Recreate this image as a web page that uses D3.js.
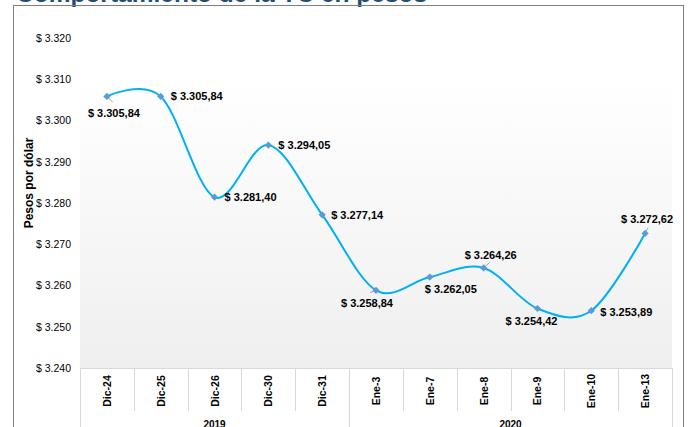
<!DOCTYPE html>
<html>
<head>
<meta charset="utf-8">
<script src="https://cdn.jsdelivr.net/npm/d3@7"></script>
<style>
  html, body { margin: 0; padding: 0; background: #ffffff; }
  svg { display: block; font-family: "Liberation Sans", Arial, sans-serif; }
</style>
</head>
<body>
<svg id="chart" width="690" height="427"></svg>
<script>
// ---- data ----
const categories = ["Dic-24", "Dic-25", "Dic-26", "Dic-30", "Dic-31", "Ene-3", "Ene-7", "Ene-8", "Ene-9", "Ene-10", "Ene-13"];
const years = ["2019", "2019", "2019", "2019", "2019", "2020", "2020", "2020", "2020", "2020", "2020"];
const values = [3305.84, 3305.84, 3281.40, 3294.05, 3277.14, 3258.84, 3262.05, 3264.26, 3254.42, 3253.89, 3272.62];
const yTicks = [3240, 3250, 3260, 3270, 3280, 3290, 3300, 3310, 3320];
const title = "Comportamiento de la TC en pesos";
const yTitle = "Pesos por dólar";

// label placement (offsets from point, style only)
const labelPos = [
  {dx: 7, dy: 17, a: "middle", lead: [1, 1]},
  {dx: 10, dy: 0, a: "start"},
  {dx: 10, dy: 0, a: "start"},
  {dx: 10, dy: 0, a: "start"},
  {dx: 9, dy: 0, a: "start"},
  {dx: -9, dy: 13, a: "middle", lead: [-1, 0.4]},
  {dx: 21, dy: 12, a: "middle"},
  {dx: 7, dy: -13, a: "middle", lead: [1, -0.9]},
  {dx: -6, dy: 13, a: "middle"},
  {dx: 9, dy: 1, a: "start"},
  {dx: 2, dy: -14, a: "middle", lead: [0.5, -1]}
];

const locale = d3.formatLocale({decimal: ",", thousands: ".", grouping: [3], currency: ["$ ", ""]});
const fmtVal = locale.format("$,.2f");
const fmtTick = locale.format("$,.0f");

const svg = d3.select("#chart");
const plot = {left: 80, right: 672, top: 38, bottom: 368};

// title (partially cut off at top)
svg.append("text")
  .attr("x", 16).attr("y", 2)
  .attr("font-size", 24.5).attr("font-weight", "bold")
  .attr("fill", "#1f4e79")
  .text(title);

// frame
svg.append("rect")
  .attr("x", 13.5).attr("y", 5.5)
  .attr("width", 670).attr("height", 440)
  .attr("fill", "none").attr("stroke", "#7f7f7f").attr("stroke-width", 1);

// plot area gradient
const defs = svg.append("defs");
const grad = defs.append("linearGradient").attr("id", "bg").attr("x1", 0).attr("y1", 0).attr("x2", 0).attr("y2", 1);
grad.append("stop").attr("offset", "0%").attr("stop-color", "#ffffff");
grad.append("stop").attr("offset", "100%").attr("stop-color", "#efefef");

const x = d3.scaleBand().domain(categories).range([plot.left, plot.right]).padding(0);
const y = d3.scaleLinear().domain([3240, 3320]).range([plot.bottom, plot.top]);

svg.append("rect")
  .attr("x", plot.left).attr("y", 80)
  .attr("width", plot.right - plot.left).attr("height", plot.bottom - 80)
  .attr("fill", "url(#bg)");

// y axis labels
const yAxis = d3.axisLeft(y).tickValues(yTicks).tickFormat(fmtTick).tickSize(0).tickPadding(0);
const gy = svg.append("g").attr("transform", `translate(71,0)`).call(yAxis);
gy.select(".domain").remove();
gy.selectAll("text").attr("font-size", 10.5).attr("fill", "#000").attr("font-family", "Liberation Sans, Arial, sans-serif");

// y axis title
svg.append("text")
  .attr("transform", `translate(33,183) rotate(-90)`)
  .attr("text-anchor", "middle")
  .attr("font-size", 12).attr("font-weight", "bold")
  .text(yTitle);

// x axis: baseline
svg.append("line")
  .attr("x1", plot.left).attr("x2", plot.right)
  .attr("y1", plot.bottom + 0.5).attr("y2", plot.bottom + 0.5)
  .attr("stroke", "#d9d9d9");

// category separators
const bw = x.bandwidth();
const seps = d3.range(categories.length + 1);
svg.selectAll("line.sep").data(seps).enter().append("line")
  .attr("class", "sep")
  .attr("x1", i => Math.round(plot.left + i * bw) + 0.5)
  .attr("x2", i => Math.round(plot.left + i * bw) + 0.5)
  .attr("y1", plot.bottom)
  .attr("y2", i => (i === 0 || i === categories.length || years[i] !== years[i - 1]) ? 427 : 411)
  .attr("stroke", "#d9d9d9");

// category labels
svg.selectAll("text.cat").data(categories).enter().append("text")
  .attr("class", "cat")
  .attr("transform", d => `translate(${x(d) + bw / 2 + 4},391) rotate(-90)`)
  .attr("text-anchor", "middle")
  .attr("font-size", 10.5).attr("font-weight", "bold")
  .text(d => d);

// year group labels
const groups = d3.groups(categories.map((c, i) => ({c, yr: years[i]})), d => d.yr);
svg.selectAll("text.yr").data(groups).enter().append("text")
  .attr("class", "yr")
  .attr("x", g => (x(g[1][0].c) + x(g[1][g[1].length - 1].c) + bw) / 2)
  .attr("y", 428)
  .attr("text-anchor", "middle")
  .attr("font-size", 10).attr("font-weight", "bold")
  .text(g => g[0]);

// line
const pts = categories.map((c, i) => [x(c) + bw / 2, y(values[i])]);
svg.append("path")
  .attr("d", d3.line().curve(d3.curveCardinal.tension(0))(pts))
  .attr("fill", "none").attr("stroke", "#00b0f0").attr("stroke-width", 2);

// leader lines
pts.forEach((p, i) => {
  const lp = labelPos[i];
  if (lp.lead) {
    svg.append("line")
      .attr("x1", p[0]).attr("y1", p[1])
      .attr("x2", p[0] + lp.lead[0] * 6).attr("y2", p[1] + lp.lead[1] * 6)
      .attr("stroke", "#a6a6a6").attr("stroke-width", 1);
  }
});

// markers (square diamonds)
svg.selectAll("path.mk").data(pts).enter().append("path")
  .attr("class", "mk")
  .attr("transform", p => `translate(${p[0]},${p[1]}) rotate(45)`)
  .attr("d", d3.symbol().type(d3.symbolSquare).size(26))
  .attr("fill", "#5b9bd5");

// data labels
svg.selectAll("text.lbl").data(values).enter().append("text")
  .attr("class", "lbl")
  .attr("x", (v, i) => pts[i][0] + labelPos[i].dx)
  .attr("y", (v, i) => pts[i][1] + labelPos[i].dy)
  .attr("dy", "0.35em")
  .attr("text-anchor", (v, i) => labelPos[i].a)
  .attr("font-size", 11).attr("font-weight", "bold")
  .text(v => fmtVal(v));
</script>
</body>
</html>
